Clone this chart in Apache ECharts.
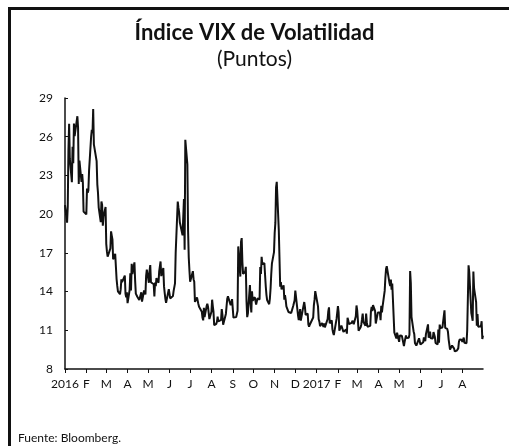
<!DOCTYPE html>
<html>
<head>
<meta charset="utf-8">
<title>Índice VIX de Volatilidad</title>
<script src="https://cdn.jsdelivr.net/npm/echarts@6/dist/echarts.min.js"></script>
<style>
  html, body { margin: 0; padding: 0; background: #fff; }
  #chart { width: 509px; height: 446px; }
</style>
</head>
<body>
<div id="chart"></div>
<script>
// cierre diario del VIX, una lista por mes (dias habiles)
const vix2016 = [
  [20.70, 19.34, 20.59, 24.99, 27.01, 24.30, 22.47, 25.22, 23.95, 27.02, 26.05, 27.59, 26.69, 22.34, 24.15, 22.50, 23.11, 22.42, 20.20],
  [19.98, 21.98, 21.65, 21.84, 23.38, 26.00, 26.54, 26.29, 28.14, 25.40, 24.11, 22.31, 21.64, 20.53, 19.38, 20.98, 20.72, 19.11, 19.81, 20.55],
  [17.70, 17.09, 16.70, 16.86, 17.35, 18.67, 18.34, 18.05, 16.50, 16.92, 16.84, 14.99, 14.44, 14.02, 13.79, 14.17, 14.94, 14.74, 15.24, 13.82, 13.56, 13.95],
  [13.10, 14.12, 15.42, 14.09, 16.16, 15.36, 16.26, 14.85, 13.84, 13.72, 13.62, 13.35, 13.24, 13.28, 13.95, 13.22, 14.08, 13.96, 13.77, 15.22, 15.70],
  [14.68, 15.60, 16.05, 14.72, 14.72, 14.57, 13.63, 14.69, 14.41, 15.04, 14.68, 15.57, 15.95, 16.33, 15.20, 15.82, 14.42, 13.90, 13.43, 13.12, 14.19],
  [14.20, 13.47, 13.47, 13.65, 14.05, 14.08, 14.64, 17.03, 20.97, 20.50, 20.14, 19.37, 19.41, 18.37, 18.48, 21.17, 17.25, 25.76, 23.85, 18.75, 16.64, 15.63],
  [14.77, 15.58, 14.96, 14.76, 13.20, 13.54, 13.55, 13.04, 12.82, 12.67, 12.44, 11.97, 11.77, 12.74, 12.02, 12.87, 13.05, 12.83, 12.72, 11.87],
  [12.44, 13.37, 12.86, 12.42, 11.39, 11.50, 11.66, 12.05, 11.68, 11.55, 11.81, 12.64, 12.19, 11.43, 11.34, 12.27, 12.38, 13.45, 13.63, 13.65, 12.94, 13.12, 13.42],
  [13.48, 11.98, 12.02, 11.94, 12.51, 17.50, 15.16, 17.85, 18.14, 16.30, 15.37, 15.53, 15.92, 13.30, 12.02, 12.29, 14.50, 13.10, 12.39, 14.02, 13.29],
  [13.57, 13.63, 12.99, 12.84, 13.48, 13.38, 15.91, 15.36, 16.69, 16.12, 16.21, 15.28, 14.41, 13.75, 13.34, 13.02, 13.46, 14.24, 15.36, 16.19, 17.06],
  [18.56, 19.32, 22.08, 22.51, 18.71, 18.74, 14.38, 14.74, 14.17, 14.48, 13.37, 13.72, 13.35, 12.85, 12.42, 12.41, 12.43, 12.34, 12.90, 12.90, 13.33],
  [14.07, 14.12, 12.14, 11.79, 12.22, 12.64, 11.75, 12.64, 12.72, 13.19, 12.79, 12.20, 12.29, 11.45, 11.27, 11.43, 11.44, 11.99, 12.95, 13.37, 14.04]
]
const vix2017 = [
  [12.85, 11.85, 11.67, 11.32, 11.56, 11.49, 11.26, 11.54, 11.23, 11.87, 12.48, 12.78, 11.54, 11.77, 11.07, 10.81, 10.63, 10.58, 11.88, 11.99],
  [12.88, 12.38, 10.97, 11.37, 11.45, 11.45, 10.88, 10.85, 11.07, 10.74, 11.97, 11.76, 11.49, 11.57, 11.74, 11.71, 11.47, 12.09, 12.92],
  [12.54, 11.81, 10.96, 11.24, 11.45, 11.86, 12.30, 11.66, 11.35, 12.30, 11.63, 11.28, 11.28, 11.34, 12.47, 12.81, 12.48, 12.96, 12.50, 11.53, 11.42, 11.54, 12.37],
  [12.38, 11.79, 12.89, 12.39, 12.87, 14.05, 15.07, 15.77, 15.96, 14.66, 14.42, 14.93, 14.15, 14.63, 10.84, 10.76, 10.85, 10.36, 10.82],
  [10.11, 10.59, 10.68, 10.46, 10.57, 9.77, 10.11, 10.21, 10.60, 10.40, 10.42, 10.65, 15.59, 14.66, 12.04, 10.93, 10.72, 10.02, 9.99, 9.81, 10.38, 10.41],
  [9.89, 9.75, 10.07, 10.45, 10.39, 10.16, 10.70, 11.46, 10.42, 10.64, 10.90, 10.38, 10.37, 10.86, 10.75, 10.48, 10.02, 9.90, 11.06, 10.03, 11.44, 11.18],
  [11.22, 11.07, 12.54, 11.19, 11.11, 10.89, 10.30, 9.90, 9.51, 9.82, 9.89, 9.79, 9.58, 9.36, 9.43, 9.43, 9.60, 10.11, 10.29, 10.26],
  [10.09, 10.28, 10.44, 10.03, 10.00, 10.96, 11.11, 16.04, 15.51, 12.33, 12.04, 11.74, 15.55, 14.26, 13.19, 11.35, 12.25, 11.28, 11.28, 11.32, 11.70, 10.33, 10.59]
]
// feriados del mercado (sin cotizacion)
const holidays = ['2016-01-18', '2016-02-15', '2016-03-25', '2016-05-30', '2016-07-04', '2016-09-05',
  '2016-11-24', '2016-12-26', '2017-01-02', '2017-01-16', '2017-02-20', '2017-04-14', '2017-05-29', '2017-07-04']
const tickLabels = ['2016', 'F', 'M', 'A', 'M', 'J', 'J', 'A', 'S', 'O', 'N', 'D',
  '2017', 'F', 'M', 'A', 'M', 'J', 'J', 'A']
const yTicks = [8, 11, 14, 17, 20, 23, 26, 29]

function pad(n) { return n < 10 ? '0' + n : '' + n }

// junta cada valor con su dia habil
function buildSeries(year, months) {
  let out = []
  months.forEach((vals, m) => {
    let k = 0
    for (let d = 1; d <= 31 && k < vals.length; d++) {
      let dt = new Date(year, m, d)
      if (dt.getMonth() !== m) break
      let wd = dt.getDay()
      if (wd === 0 || wd === 6) continue
      if (holidays.indexOf(year + '-' + pad(m + 1) + '-' + pad(d)) >= 0) continue
      out.push([dt.getTime(), vals[k++]])
    }
  })
  return out
}

let data = buildSeries(2016, vix2016).concat(buildSeries(2017, vix2017))
let monthStarts = tickLabels.map((t, i) => new Date(2016 + Math.floor(i / 12), i % 12, 1).getTime())

let myEchart = echarts.init(document.getElementById('chart'))
myEchart.setOption({
  animation: false,
  title: {
    text: 'Índice VIX de Volatilidad',
    subtext: '(Puntos)',
    left: 'center',
    top: 17,
    itemGap: 5,
    textStyle: { fontFamily: 'Lato', fontSize: 22, fontWeight: 'bold', color: '#111' },
    subtextStyle: { fontFamily: 'Lato', fontSize: 21, color: '#111' }
  },
  grid: { left: 65, right: 26, top: 98, bottom: 77 },
  xAxis: {
    type: 'value',
    min: new Date(2016, 0, 1).getTime(),
    max: new Date(2017, 7, 31).getTime(),
    axisLine: { lineStyle: { color: '#111', width: 1.5 } },
    axisTick: {
      customValues: monthStarts,
      length: 4,
      lineStyle: { color: '#111' }
    },
    axisLabel: {
      customValues: monthStarts,
      fontFamily: 'Lato',
      fontSize: 12,
      color: '#111',
      margin: 9,
      formatter: function (value) {
        let d = new Date(value)
        return tickLabels[(d.getFullYear() - 2016) * 12 + d.getMonth()]
      }
    },
    splitLine: { show: false }
  },
  yAxis: {
    type: 'value',
    min: 8,
    max: 29,
    axisLine: { show: true, lineStyle: { color: '#111', width: 1.5 } },
    axisTick: { show: true, inside: true, length: 3, customValues: yTicks, lineStyle: { color: '#111' } },
    axisLabel: { customValues: yTicks, fontFamily: 'Lato', fontSize: 12, color: '#111', margin: 12 },
    splitLine: { show: false }
  },
  series: [
    {
      name: 'VIX',
      type: 'line',
      showSymbol: false,
      data: data,
      lineStyle: { color: '#111', width: 2 }
    }
  ],
  graphic: [
    { type: 'line', shape: { x1: 9.5, y1: 8.5, x2: 509, y2: 8.5 }, style: { stroke: '#111', lineWidth: 3 } },
    { type: 'line', shape: { x1: 9.5, y1: 7, x2: 9.5, y2: 446 }, style: { stroke: '#111', lineWidth: 3 } },
    {
      type: 'text', left: 18, top: 432,
      style: { text: 'Fuente: Bloomberg.', fontFamily: 'Lato', fontSize: 12, fill: '#111' }
    }
  ]
})
</script>
</body>
</html>
